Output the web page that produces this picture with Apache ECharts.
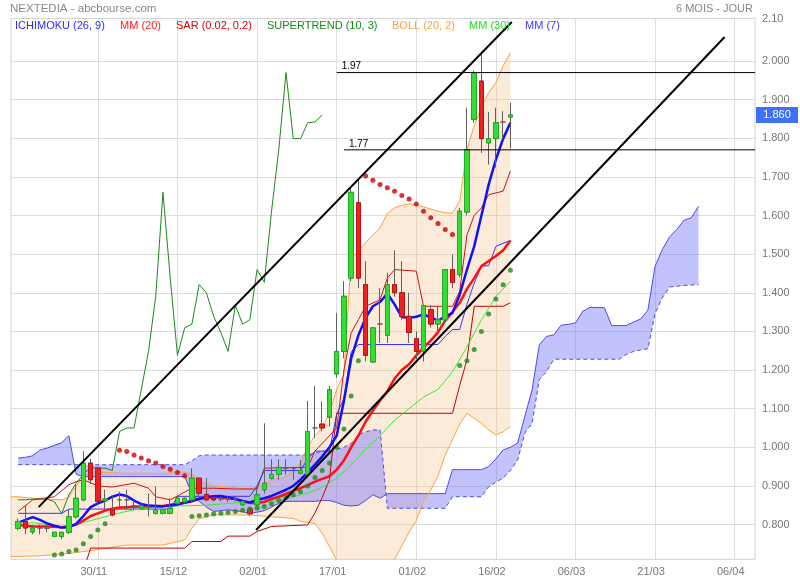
<!DOCTYPE html>
<html><head><meta charset="utf-8">
<script src="https://cdn.jsdelivr.net/npm/echarts@6/dist/echarts.min.js"></script>
<style>html,body{margin:0;padding:0;background:#fff}#c{width:800px;height:580px}</style>
</head><body><div id="c"></div>
<script>
const dates = ['15/11','16/11','17/11','18/11','21/11','22/11','23/11','24/11','25/11','28/11','29/11','30/11',
'01/12','02/12','05/12','06/12','07/12','08/12','09/12','12/12','13/12','14/12','15/12',
'16/12','19/12','20/12','21/12','22/12','23/12','27/12','28/12','29/12','30/12','02/01',
'03/01','04/01','05/01','06/01','09/01','10/01','11/01','12/01','13/01','16/01','17/01',
'18/01','19/01','20/01','23/01','24/01','25/01','26/01','27/01','30/01','31/01','01/02',
'02/02','03/02','06/02','07/02','08/02','09/02','10/02','13/02','14/02','15/02','16/02','17/02','20/02'];
const tickIndex = [11,22,33,44,55,66,77,88,99];
const tickLabels = ['30/11','15/12','02/01','17/01','01/02','16/02','06/03','21/03','06/04'];
const yTicks = [0.8,0.9,1.0,1.1,1.2,1.3,1.4,1.5,1.6,1.7,1.8,1.9,2.0];
const yTop = 2.11;

const opens = [0.790,0.808,0.781,0.791,0.790,0.769,0.769,0.780,0.820,0.864,0.959,0.946,0.862,0.838,0.864,0.864,0.848,0.842,0.846,0.829,
0.829,0.829,0.855,0.859,0.864,0.920,0.878,0.868,0.866,0.866,0.866,0.851,0.840,0.851,0.890,0.920,0.930,0.946,0.946,0.933,
0.929,1.050,1.060,1.078,1.190,1.248,1.438,1.633,1.421,1.221,1.319,1.290,1.421,1.400,1.339,1.281,1.248,1.356,1.319,1.330,
1.460,1.447,1.609,1.849,1.948,1.788,1.799,1.842,1.855];
const closes = [0.808,0.791,0.791,0.791,0.790,0.780,0.780,0.820,0.868,0.959,0.916,0.860,0.866,0.825,0.864,0.864,0.848,0.848,0.846,0.838,
0.838,0.842,0.868,0.868,0.920,0.881,0.864,0.864,0.866,0.866,0.866,0.859,0.828,0.877,0.907,0.930,0.948,0.946,0.946,0.940,
1.041,1.050,1.050,1.149,1.248,1.391,1.660,1.438,1.238,1.309,1.319,1.421,1.400,1.339,1.297,1.248,1.367,1.319,1.330,1.460,
1.427,1.611,1.771,1.970,1.799,1.799,1.840,1.842,1.860];
const lows = [0.785,0.775,0.775,0.775,0.780,0.769,0.762,0.775,0.815,0.860,0.905,0.855,0.838,0.821,0.840,0.838,0.838,0.838,0.821,0.826,
0.826,0.826,0.852,0.855,0.860,0.872,0.860,0.860,0.860,0.858,0.860,0.848,0.822,0.848,0.880,0.916,0.916,0.929,0.916,0.930,
0.925,1.024,1.041,1.054,1.180,1.230,1.430,1.412,1.222,1.218,1.270,1.270,1.390,1.330,1.270,1.228,1.222,1.310,1.290,1.320,
1.412,1.440,1.600,1.840,1.762,1.732,1.724,1.797,1.773];
const highs = [0.815,0.850,0.800,0.800,0.800,0.780,0.780,0.840,0.905,0.990,0.970,0.950,0.890,0.873,0.885,0.890,0.864,0.855,0.880,0.898,
0.840,0.868,0.872,0.870,0.946,0.920,0.920,0.872,0.872,0.872,0.870,0.862,0.845,0.900,1.062,0.969,0.969,0.969,0.950,0.967,
1.120,1.159,1.119,1.159,1.348,1.430,1.670,1.693,1.482,1.310,1.412,1.452,1.510,1.482,1.400,1.300,1.367,1.367,1.365,1.460,
1.499,1.620,1.879,1.975,2.017,1.868,1.879,1.870,1.892];

const mm7 = [0.805,0.812,0.819,0.812,0.803,0.797,0.792,0.793,0.802,0.822,0.845,0.855,0.862,0.872,0.878,0.874,0.862,0.853,0.849,0.848,
0.847,0.849,0.852,0.856,0.861,0.867,0.871,0.873,0.874,0.870,0.866,0.861,0.857,0.864,0.868,0.874,0.882,0.890,0.900,0.916,
0.935,0.955,0.976,1.000,1.030,1.120,1.230,1.290,1.335,1.365,1.376,1.398,1.370,1.337,1.335,1.338,1.344,1.336,1.328,1.338,
1.348,1.395,1.460,1.520,1.600,1.680,1.745,1.799,1.840];
const mm20 = [0.799,0.797,0.795,0.795,0.795,0.794,0.793,0.795,0.800,0.810,0.822,0.829,0.836,0.841,0.844,0.845,0.846,0.847,0.847,0.848,
0.848,0.851,0.854,0.857,0.861,0.866,0.869,0.871,0.870,0.868,0.866,0.860,0.856,0.856,0.859,0.866,0.872,0.879,0.887,0.894,
0.902,0.911,0.918,0.925,0.942,0.966,1.000,1.030,1.066,1.095,1.121,1.145,1.178,1.200,1.215,1.238,1.258,1.276,1.298,1.328,
1.350,1.374,1.410,1.438,1.469,1.482,1.495,1.510,1.535];
const mm30 = [[0,0.800],[2,0.805],[4,0.800],[6,0.795],[8,0.800],[10,0.810],[12,0.820],[14,0.830],[16,0.838],[18,0.843],[20,0.846],
[22,0.848],[24,0.849],[26,0.850],[28,0.853],[30,0.856],[32,0.858],[34,0.856],[36,0.863],[38,0.872],[40,0.882],[42,0.896],[44,0.920],
[46,0.955],[48,0.995],[50,1.030],[52,1.070],[54,1.100],[56,1.130],[58,1.150],[60,1.195],[62,1.260],[64,1.330],[66,1.390],[68,1.430]];

const tenkan = [[0,0.834],[2,0.864],[5,0.872],[7,0.903],[8,0.911],[9,0.916],[11,0.900],[13,0.897],[16,0.907],[18,0.894],[19,0.872],
[21,0.864],[24,0.894],[27,0.894],[30,0.892],[33,0.892],[34,0.946],[40,0.948],[41,0.990],[43,1.030],[44,1.050],[45,1.200],[46,1.296],
[47,1.330],[48,1.365],[50,1.382],[51,1.438],[52,1.460],[55,1.456],[56,1.365],[60,1.365],[61,1.404],[62,1.550],[63,1.600],[64,1.620],
[65,1.654],[67,1.663],[68,1.715]];
const kijun = [[0,0.829],[6,0.829],[7,0.840],[21,0.840],[22,0.873],[32,0.873],[33,0.900],[34,0.940],[39,0.940],[40,0.970],[41,0.990],
[43,0.990],[44,1.085],[45,1.126],[46,1.246],[47,1.266],[58,1.266],[59,1.287],[60,1.305],[61,1.305],[62,1.370],[63,1.425],[64,1.469],
[65,1.470],[66,1.520],[67,1.528],[68,1.535]];
const supertrend = [[9,0.680],[10,0.739],[23,0.739],[24,0.756],[28,0.756],[29,0.770],[32,0.770],[33,0.782],[35,0.795],[40,0.799],
[41,0.830],[42,0.870],[43,0.916],[44,1.088],[60,1.088],[61,1.160],[62,1.227],[63,1.365],[67,1.365],[68,1.374]];

const senkouA = [0.972,0.974,0.978,0.993,0.998,1.005,1.012,1.030,0.930,0.924,0.924,0.924,0.924,0.924,0.924,0.924,0.924,0.924,0.924,0.924,
0.924,0.924,0.924,0.924,0.880,0.860,0.845,0.834,0.836,0.838,0.836,0.833,0.829,0.832,0.836,0.845,0.855,0.860,0.860,0.860,
0.860,0.860,0.862,0.862,0.857,0.850,0.848,0.850,0.862,0.877,0.868,0.880,0.880,0.880,0.880,0.880,0.880,0.880,0.880,0.880,
0.942,0.942,0.942,0.942,0.942,0.950,0.970,0.993,1.000,1.011,1.080,1.149,1.265,1.287,1.291,1.316,1.318,1.322,1.352,1.362,
1.362,1.361,1.315,1.315,1.315,1.324,1.332,1.355,1.469,1.512,1.545,1.564,1.588,1.594,1.624];
const senkouB = [0.955,0.955,0.955,0.955,0.955,0.955,0.955,0.955,0.955,0.955,0.955,0.955,0.955,0.955,0.955,0.955,0.955,0.955,0.955,0.955,
0.955,0.955,0.955,0.955,0.965,0.978,0.980,0.980,0.980,0.980,0.980,0.980,0.980,0.980,0.980,0.980,0.980,0.980,0.980,0.980,
0.980,0.985,0.990,0.990,0.995,1.000,1.010,1.032,1.040,1.045,1.045,0.842,0.842,0.842,0.842,0.842,0.842,0.842,0.842,0.842,
0.872,0.872,0.872,0.872,0.872,0.898,0.910,0.920,0.940,0.967,1.037,1.062,1.175,1.196,1.228,1.228,1.228,1.228,1.228,1.228,
1.228,1.228,1.228,1.228,1.240,1.248,1.252,1.255,1.347,1.387,1.415,1.417,1.419,1.420,1.421];

const bollUp = [[-1,0.872],[0,0.872],[2,0.868],[4,0.866],[6,0.864],[7,0.870],[8,0.900],[9,0.924],[10,0.933],[12,0.935],[14,0.933],
[16,0.933],[18,0.933],[20,0.932],[22,0.937],[23,0.935],[24,0.930],[25,0.916],[26,0.905],[27,0.900],[29,0.897],[31,0.893],[33,0.895],
[34,0.905],[35,0.915],[37,0.924],[38,0.940],[39,0.959],[40,1.002],[41,1.030],[42,1.050],[43,1.088],[44,1.149],[45,1.190],[46,1.490],
[47,1.508],[48,1.530],[49,1.550],[50,1.568],[51,1.605],[52,1.620],[53,1.626],[54,1.630],[55,1.628],[56,1.622],[57,1.617],[58,1.611],
[59,1.607],[60,1.606],[61,1.637],[62,1.771],[63,1.832],[64,1.880],[65,1.918],[66,1.944],[67,1.987],[68,2.022]];
const bollDown = [[-1,0.717],[3,0.719],[7,0.725],[11,0.735],[13,0.741],[15,0.747],[20,0.747],[23,0.760],[24,0.790],[25,0.815],
[27,0.825],[30,0.825],[32,0.825],[35,0.820],[38,0.816],[39,0.808],[41,0.803],[42,0.777],[43,0.743],[44,0.708],[45,0.660],[46,0.600],
[47,0.560],[48,0.540],[49,0.550],[50,0.580],[51,0.640],[52,0.710],[53,0.745],[54,0.780],[55,0.810],[56,0.860],[57,0.890],[58,0.925],
[59,0.980],[60,1.020],[61,1.060],[62,1.088],[63,1.075],[64,1.062],[65,1.045],[66,1.032],[67,1.040],[68,1.054]];

const sarUp = [[5,0.721],[6,0.724],[7,0.730],[8,0.734],[9,0.750],[10,0.769],[11,0.786],[12,0.802],
[24,0.821],[25,0.823],[26,0.825],[27,0.827],[28,0.829],[29,0.831],[30,0.834],[31,0.837],[32,0.840],[33,0.843],[34,0.847],[35,0.853],
[36,0.862],[37,0.870],[38,0.877],[39,0.885],[40,0.900],[41,0.922],[42,0.940],[43,0.959],[44,1.000],[45,1.047],[46,1.133],[47,1.224],
[61,1.212],[62,1.224],[63,1.253],[64,1.300],[65,1.345],[66,1.384],[67,1.421],[68,1.458]];
const sarDown = [[14,0.992],[15,0.989],[16,0.980],[17,0.972],[18,0.965],[19,0.959],[20,0.950],[21,0.943],[22,0.935],[23,0.926],
[48,1.702],[49,1.691],[50,1.680],[51,1.672],[52,1.663],[53,1.652],[54,1.643],[55,1.630],[56,1.611],[57,1.594],[58,1.579],[59,1.564],[60,1.551]];

const trendUpper = [[2.81,0.845],[68.2,2.101]];
const trendLower = [[32.87,0.786],[97.6,2.062]];
const levels = [1.97, 1.77];
const levelStart = [44, 45];
const levelLabels = ['1.97','1.77'];
const lastPrice = 1.86;

const FONT = '"Liberation Sans", Arial, sans-serif';
const candles = dates.map((d,i)=>[i, opens[i], closes[i], lows[i], highs[i]]);
const bodies = candles.filter(c=>c[1]!==c[2]).map(c=>[c[0], c[1], c[2], Math.min(c[1],c[2]), Math.max(c[1],c[2])]);
const chikou = closes.slice(26).map((v,i)=>[i, v]);
const idx = arr => arr.map((v,i)=>[i, v]);
const XMIN = -1, XMAX = 101.8;

function band(upper, lower, fill, z){
  return {type:'custom', coordinateSystem:'cartesian2d', clip:true, silent:true, z:z,
    data:[[0,1]],
    renderItem:(params, api)=>{
      const pts = upper.map(p=>api.coord(p)).concat(lower.slice().reverse().map(p=>api.coord(p)));
      return {type:'polygon', shape:{points:pts}, style:{fill:fill}};
    }};
}
function line(data, color, width, extra){
  return Object.assign({type:'line', data:data, showSymbol:false, symbol:'none', silent:true,
    lineStyle:{color:color, width:width}, z:3}, extra||{});
}

const chart = echarts.init(document.getElementById('c'), null, {renderer:'canvas'});
const option = {
  animation:false,
  backgroundColor:'#ffffff',
  grid:{left:11, right:45, top:18.5, bottom:20.7, show:true, borderColor:'#d2d2d2', borderWidth:1, backgroundColor:'transparent'},
  xAxis:{type:'value', min:XMIN, max:XMAX,
    axisLine:{show:false}, axisTick:{show:false, customValues:tickIndex},
    axisLabel:{customValues:tickIndex, color:'#777', fontSize:11, fontFamily:FONT, margin:7, padding:[0,8,0,0],
      formatter:v=>{const k=tickIndex.indexOf(Math.round(v)); return k>=0?tickLabels[k]:'';}},
    splitLine:{show:true, lineStyle:{color:'#dddddd', width:1}}},
  yAxis:{type:'value', position:'right', min:0.71, max:yTop,
    axisLine:{show:false}, axisTick:{show:false, customValues:yTicks},
    axisLabel:{customValues:yTicks.concat([yTop]), color:'#777', fontSize:11, fontFamily:FONT, margin:7, padding:[0,0,4,0],
      formatter:v=> v>2.05 ? '2.10' : v.toFixed(3)},
    splitLine:{show:true, lineStyle:{color:'#dddddd', width:1}}},
  series:[
    band(bollUp, bollDown, 'rgba(248,190,130,0.30)', 1),
    band(idx(senkouA), idx(senkouB), 'rgba(110,110,250,0.42)', 1),
    line(idx(senkouA), '#4a4aee', 1, {z:2}),
    line(idx(senkouB), '#4a4aee', 1, {z:2, lineStyle:{color:'#4a4aee', width:1, type:[4,3]}}),
    line(bollUp, '#ffa040', 1, {z:2}),
    line(bollDown, '#ffa040', 1, {z:2}),
    {type:'candlestick', data:candles, encode:{x:0, y:[1,2,3,4]}, barWidth:5, silent:true, z:3,
      itemStyle:{color:'#666', color0:'#666', borderColor:'#606060', borderColor0:'#606060', borderWidth:1}},
    {type:'candlestick', data:bodies, encode:{x:0, y:[1,2,3,4]}, barWidth:5, silent:true, z:3,
      itemStyle:{color:'#33dd33', color0:'#ee2020', borderColor:'#22aa22', borderColor0:'#c01010', borderWidth:1}},
    line(chikou, '#1b8a1b', 1),
    line(supertrend, '#c00000', 1),
    line(tenkan, '#cc1515', 1),
    line(kijun, '#3333ff', 1),
    line(mm30, '#33ee33', 1),
    line(idx(mm20), '#ff1010', 2.5),
    line(idx(mm7), '#1010ff', 2.5),
    {type:'scatter', data:sarUp, symbolSize:5, silent:true, z:4, itemStyle:{color:'#1a8c1a'}},
    {type:'scatter', data:sarDown, symbolSize:5, silent:true, z:4, itemStyle:{color:'#d00000'}},
    line([[levelStart[0],levels[0]],[XMAX,levels[0]]], '#000', 1, {z:5}),
    line([[levelStart[1],levels[1]],[XMAX,levels[1]]], '#000', 1, {z:5}),
    line(trendUpper, '#000', 2, {z:5, clip:false}),
    line(trendLower, '#000', 2, {z:5, clip:false})
  ]
};
chart.setOption(option);

const legend = [
  [15,'ICHIMOKU (26, 9)','#2b2bff'],[120,'MM (20)','#ff2020'],[176,'SAR (0.02, 0.2)','#e00000'],
  [267,'SUPERTREND (10, 3)','#158c15'],[392,'BOLL (20, 2)','#ffa040'],[469,'MM (30)','#22dd22'],[525,'MM (7)','#3a3aff']];
const g = [
  {type:'text', x:10, y:9, z:10, style:{text:'NEXTEDIA - abcbourse.com', fill:'#888', font:'11.5px '+FONT, textVerticalAlign:'middle'}},
  {type:'text', x:753, y:9, z:10, style:{text:'6 MOIS - JOUR', fill:'#888', font:'11px '+FONT, textAlign:'right', textVerticalAlign:'middle'}}
];
legend.forEach(l=>g.push({type:'text', x:l[0], y:25.5, z:10, style:{text:l[1], fill:l[2], font:'11px '+FONT, textVerticalAlign:'middle'}}));
levels.forEach((v,k)=>{
  const p = chart.convertToPixel({gridIndex:0}, [levelStart[k], v]);
  g.push({type:'text', x:p[0]+5, y:p[1]-6, z:10, style:{text:levelLabels[k], fill:'#000', font:'10px '+FONT, textVerticalAlign:'middle'}});
});
const lp = chart.convertToPixel({gridIndex:0}, [0, lastPrice]);
g.push({type:'rect', z:10, shape:{x:756, y:Math.round(lp[1])-8, width:42, height:16}, style:{fill:'#3f6fff'}});
g.push({type:'text', z:11, x:777, y:Math.round(lp[1]), style:{text:lastPrice.toFixed(3), fill:'#fff', font:'11px '+FONT, textAlign:'center', textVerticalAlign:'middle'}});
chart.setOption({graphic:g});
</script>
</body></html>
